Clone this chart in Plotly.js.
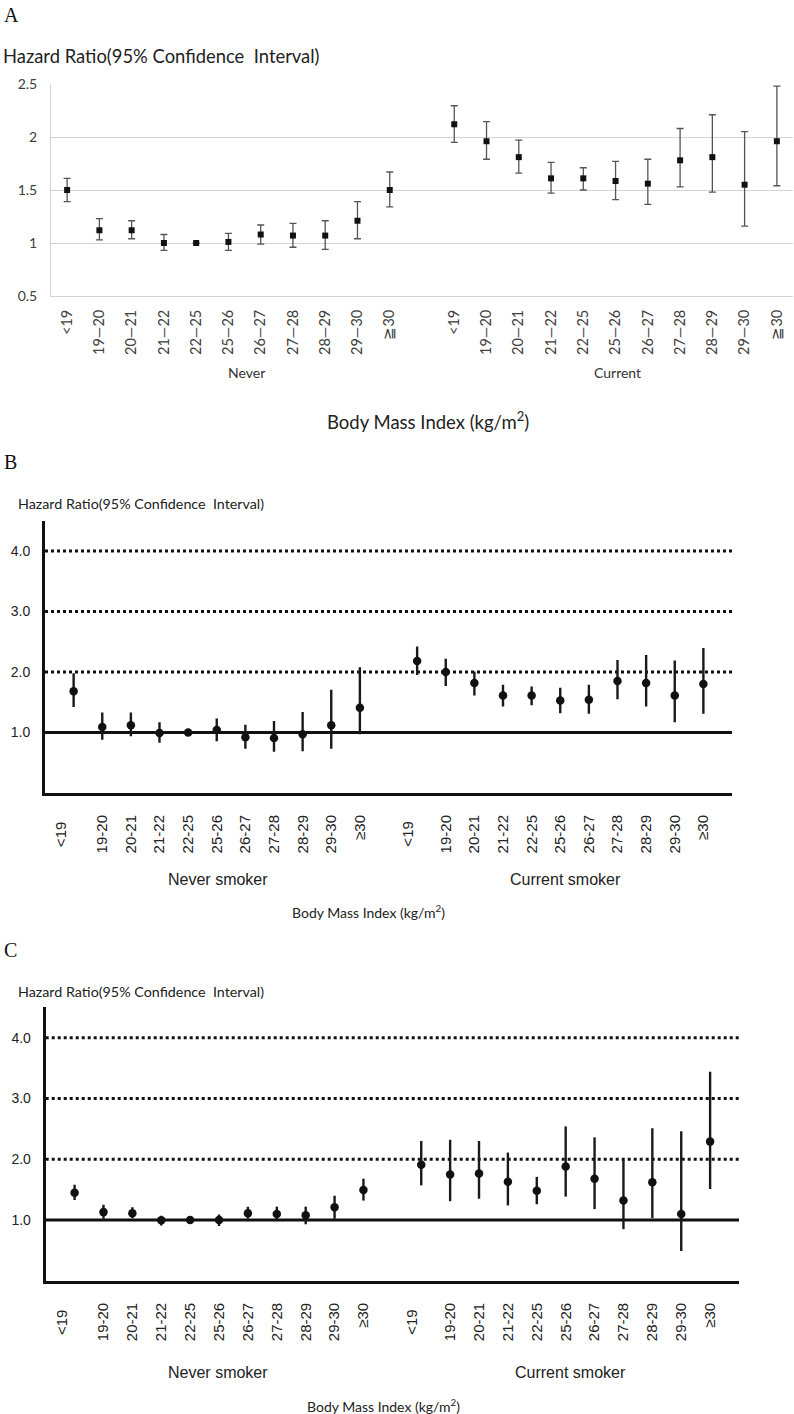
<!DOCTYPE html>
<html><head><meta charset="utf-8">
<script src="https://cdn.plot.ly/plotly-3.0.1.min.js"></script>
<style>html,body{margin:0;padding:0;background:#fff}#chart{width:794px;height:1414px}</style>
</head><body><div id="chart"></div>
<script>
// ---- Category labels ----
const bmiA  = ['<19','19\u201420','20\u201421','21\u201422','22\u201425','25\u201426','26\u201427','27\u201428','28\u201429','29\u201430','\u226730'];
const bmiBC = ['<19','19-20','20-21','21-22','22-25','25-26','26-27','27-28','28-29','29-30','\u226530'];

// ---- Panel A ----
const aNeverHR = [1.50,1.12,1.12,1.00,1.00,1.01,1.08,1.07,1.07,1.21,1.50];
const aNeverLo = [1.39,1.03,1.04,0.93,null,0.93,0.99,0.96,0.94,1.04,1.34];
const aNeverHi = [1.61,1.23,1.21,1.08,null,1.09,1.17,1.185,1.21,1.39,1.67];
const aCurHR   = [2.12,1.96,1.81,1.61,1.61,1.585,1.56,1.78,1.81,1.55,1.96];
const aCurLo   = [1.95,1.79,1.66,1.47,1.50,1.41,1.365,1.53,1.48,1.16,1.54];
const aCurHi   = [2.295,2.145,1.97,1.76,1.71,1.77,1.79,2.08,2.21,2.05,2.48];

// ---- Panel B ----
const bNeverHR = [1.68,1.09,1.12,0.99,1.00,1.04,0.92,0.91,0.97,1.12,1.41];
const bNeverLo = [1.42,0.88,0.94,0.83,null,0.855,0.73,0.68,0.69,0.73,0.97];
const bNeverHi = [1.98,1.33,1.33,1.17,null,1.23,1.13,1.19,1.34,1.705,2.08];
const bCurHR   = [2.18,2.00,1.82,1.61,1.61,1.53,1.54,1.85,1.82,1.61,1.80];
const bCurLo   = [1.95,1.77,1.61,1.43,1.45,1.32,1.31,1.55,1.43,1.17,1.31];
const bCurHi   = [2.42,2.22,2.01,1.79,1.76,1.74,1.79,2.20,2.28,2.19,2.395];

// ---- Panel C ----
const cNeverHR = [1.45,1.13,1.11,0.995,1.00,1.00,1.11,1.10,1.08,1.21,1.495];
const cNeverLo = [1.33,1.02,1.03,0.91,null,0.90,1.02,1.01,0.93,1.02,1.32];
const cNeverHi = [1.58,1.25,1.21,1.07,null,1.09,1.22,1.22,1.22,1.40,1.68];
const cCurHR   = [1.91,1.75,1.765,1.63,1.48,1.88,1.68,1.32,1.62,1.10,2.29];
const cCurLo   = [1.57,1.31,1.35,1.24,1.26,1.385,1.18,0.85,1.03,0.49,1.51];
const cCurHi   = [2.30,2.32,2.30,2.11,1.71,2.54,2.36,1.99,2.51,2.46,3.44];

const yTicksA = [0.5,1,1.5,2,2.5];
const yTicksBC = [1,2,3,4];
const yTickTextBC = ['1.0','2.0','3.0','4.0'];

// ---- helpers ----
const W = 794, H = 1414;
const px = x => x / W;
const py = y => 1 - y / H;
const neverPos = bmiBC.map((_, i) => i);
const curPos = bmiBC.map((_, i) => i + 12);
const allPos = neverPos.concat(curPos);
const up = (hr, hi) => hi.map((h, i) => h == null ? null : h - hr[i]);
const dn = (hr, lo) => lo.map((l, i) => l == null ? null : hr[i] - l);

function panelTrace(nHR, nLo, nHi, cHR, cLo, cHi, xa, ya, style) {
  const hr = nHR.concat(cHR);
  return {
    type: 'scatter', mode: 'markers', xaxis: xa, yaxis: ya,
    x: allPos, y: hr,
    marker: style.marker,
    error_y: Object.assign({
      type: 'data', symmetric: false,
      array: up(nHR, nHi).concat(up(cHR, cHi)),
      arrayminus: dn(nHR, nLo).concat(dn(cHR, cLo)),
      visible: true
    }, style.err),
    showlegend: false, hoverinfo: 'skip'
  };
}

const traces = [
  panelTrace(aNeverHR, aNeverLo, aNeverHi, aCurHR, aCurLo, aCurHi, 'x', 'y', {
    marker: {symbol: 'square', size: 6, color: '#111'},
    err: {color: '#555', thickness: 1.3, width: 3.5}
  }),
  panelTrace(bNeverHR, bNeverLo, bNeverHi, bCurHR, bCurLo, bCurHi, 'x2', 'y2', {
    marker: {symbol: 'circle', size: 8.5, color: '#111'},
    err: {color: '#1a1a1a', thickness: 2.4, width: 0}
  }),
  panelTrace(cNeverHR, cNeverLo, cNeverHi, cCurHR, cCurLo, cCurHi, 'x3', 'y3', {
    marker: {symbol: 'circle', size: 8.5, color: '#111'},
    err: {color: '#1a1a1a', thickness: 2.4, width: 0}
  })
];

const calibri = 'Lato, "Open Sans", sans-serif';
const arial = '"Liberation Sans", Arial, sans-serif';
const serif = '"Liberation Serif", "DejaVu Serif", serif';

// "<19" labels in B and C are drawn as annotations (offset left in the original)
const tickTextBC = bmiBC.concat(bmiBC).map(t => t === '<19' ? '' : t);

const xBC = (domain, anchor) => ({
  domain: domain, anchor: anchor, range: [-1, 23],
  tickmode: 'array', tickvals: allPos, ticktext: tickTextBC,
  tickangle: -90, ticks: 'outside', ticklen: 13, tickcolor: 'rgba(0,0,0,0)',
  tickfont: {family: arial, size: 15, color: '#222'},
  showgrid: false, zeroline: false, showline: true, linewidth: 3, linecolor: '#111'
});
const yBC = (domain, anchor) => ({
  domain: domain, anchor: anchor, range: [0, 4.5],
  tickmode: 'array', tickvals: yTicksBC, ticktext: yTickTextBC,
  ticks: 'outside', ticklen: 9, tickcolor: 'rgba(0,0,0,0)',
  tickfont: {family: arial, size: 14, color: '#222'},
  showgrid: false, zeroline: false, showline: true, linewidth: 3, linecolor: '#111'
});

const shapes = [];
[['x2','y2'],['x3','y3']].forEach(([xa, ya]) => {
  yTicksBC.forEach(v => {
    shapes.push({
      type: 'line', xref: xa + ' domain', yref: ya, x0: 0, x1: 1, y0: v, y1: v,
      layer: 'below',
      line: {color: '#111', width: 3, dash: v === 1 ? 'solid' : 'dot'}
    });
  });
});

const ann = (text, x, y, opts) => Object.assign({
  text: text, xref: 'paper', yref: 'paper', x: px(x), y: py(y),
  showarrow: false, xanchor: 'left', yanchor: 'middle'
}, opts);

const lt19 = (xa, pos, topY, shift) => ({
  text: bmiBC[0], xref: xa, yref: 'paper', x: pos, y: py(topY),
  xshift: shift, textangle: -90, showarrow: false,
  xanchor: 'center', yanchor: 'top',
  font: {family: arial, size: 15, color: '#222'}
});

const hrTitle = 'Hazard Ratio(95% Confidence\u00a0 Interval)';
const annotations = [
  ann('A', 2, 15, {font: {family: serif, size: 20, color: '#111'}}),
  ann(hrTitle, 1, 56, {font: {family: calibri, size: 18.4, color: '#222'}}),
  ann('Never', 246, 372, {xanchor: 'center', font: {family: calibri, size: 14, color: '#333'}}),
  ann('Current', 617, 372, {xanchor: 'center', font: {family: calibri, size: 14, color: '#333'}}),
  ann('Body Mass Index (kg/m<sup>2</sup>)', 428, 420, {xanchor: 'center', font: {family: calibri, size: 18.5, color: '#222'}}),

  ann('B', 2, 462, {font: {family: serif, size: 20, color: '#111'}}),
  ann(hrTitle, 16, 503, {font: {family: calibri, size: 14.3, color: '#222'}}),
  ann('Never smoker', 218, 879, {xanchor: 'center', font: {family: arial, size: 16, color: '#222'}}),
  ann('Current smoker', 565, 879, {xanchor: 'center', font: {family: arial, size: 16, color: '#222'}}),
  ann('Body Mass Index (kg/m<sup>2</sup>)', 368, 911, {xanchor: 'center', font: {family: calibri, size: 14, color: '#222'}}),

  ann('C', 2, 950, {font: {family: serif, size: 20, color: '#111'}}),
  ann(hrTitle, 16, 991, {font: {family: calibri, size: 14.3, color: '#222'}}),
  ann('Never smoker', 218, 1372, {xanchor: 'center', font: {family: arial, size: 16, color: '#222'}}),
  ann('Current smoker', 570, 1372, {xanchor: 'center', font: {family: arial, size: 16, color: '#222'}}),
  ann('Body Mass Index (kg/m<sup>2</sup>)', 383, 1405, {xanchor: 'center', font: {family: calibri, size: 14, color: '#222'}}),

  lt19('x2', neverPos[0], 820, -13),
  lt19('x2', curPos[0], 820, -10),
  lt19('x3', neverPos[0], 1308, -13),
  lt19('x3', curPos[0], 1308, -10)
];

const layout = {
  width: W, height: H, margin: {l: 0, r: 0, t: 0, b: 0},
  paper_bgcolor: '#fff', plot_bgcolor: 'rgba(0,0,0,0)', showlegend: false,
  xaxis: {
    domain: [px(51), px(793)], anchor: 'y', range: [-0.5, 22.5],
    tickmode: 'array', tickvals: allPos, ticktext: bmiA.concat(bmiA),
    tickangle: -90, ticks: 'outside', ticklen: 7, tickcolor: 'rgba(0,0,0,0)',
    tickfont: {family: calibri, size: 14.5, color: '#404040'},
    showgrid: false, zeroline: false, showline: true, linewidth: 1, linecolor: '#d4d4d4'
  },
  yaxis: {
    domain: [py(296), py(84)], anchor: 'x', range: [0.5, 2.5],
    tickmode: 'array', tickvals: yTicksA,
    ticks: 'outside', ticklen: 10, tickcolor: 'rgba(0,0,0,0)',
    tickfont: {family: calibri, size: 14, color: '#404040'},
    showgrid: true, gridcolor: '#d4d4d4', gridwidth: 1,
    zeroline: false, showline: true, linewidth: 1, linecolor: '#d4d4d4'
  },
  xaxis2: xBC([px(45), px(732)], 'y2'),
  yaxis2: yBC([py(793), py(520.75)], 'x2'),
  xaxis3: xBC([px(45.7), px(739)], 'y3'),
  yaxis3: yBC([py(1280.8), py(1007.3)], 'x3'),
  shapes: shapes,
  annotations: annotations
};

Plotly.newPlot('chart', traces, layout, {staticPlot: true, displayModeBar: false});
</script>
</body></html>
